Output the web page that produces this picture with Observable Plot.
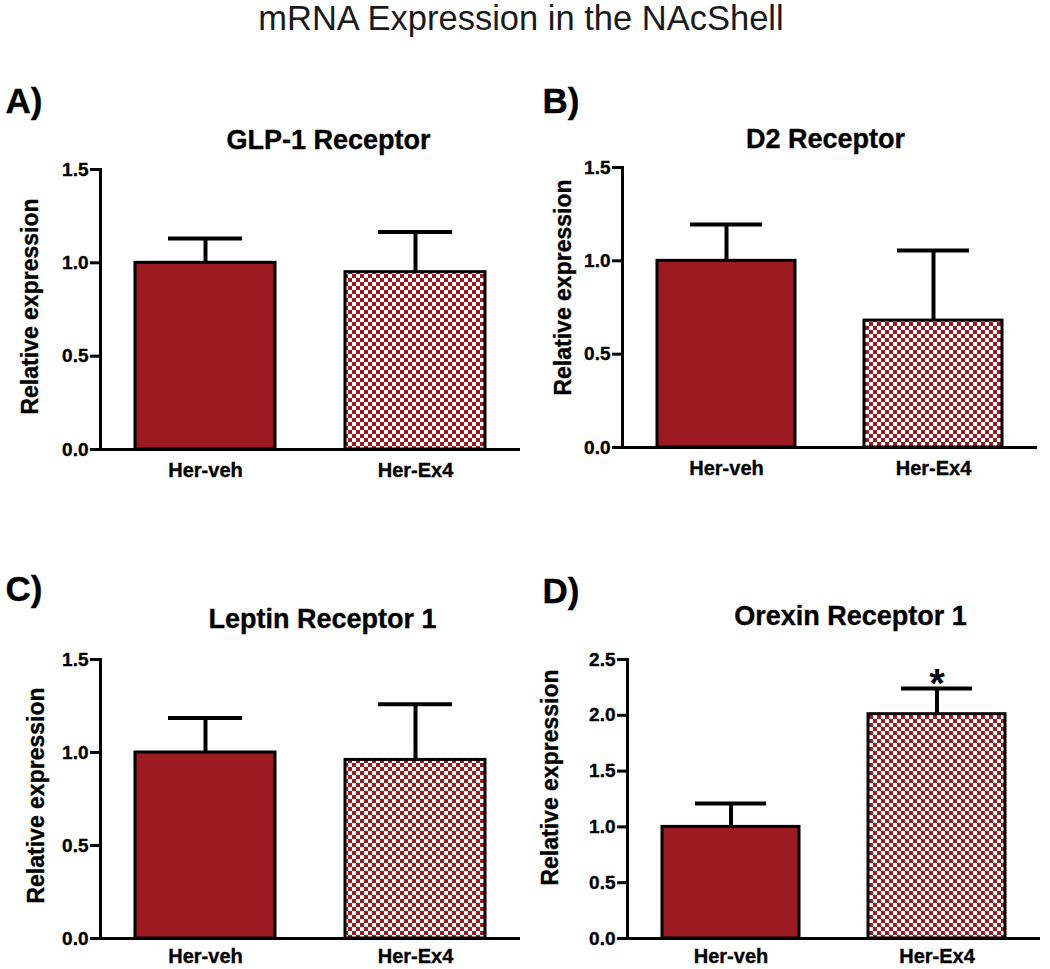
<!DOCTYPE html>
<html>
<head>
<meta charset="utf-8">
<script src="https://cdn.jsdelivr.net/npm/d3@7"></script>
<script src="https://cdn.jsdelivr.net/npm/@observablehq/plot@0.6"></script>
<style>
  html, body { margin: 0; padding: 0; background: white; }
  #page { position: relative; width: 1050px; height: 969px; overflow: hidden; background: white; }
  #title { position: absolute; left: 0; top: 1px; width: 1042px; text-align: center;
           font-family: "Liberation Sans", Arial, sans-serif; font-size: 34.5px; line-height: 34px; color: #1a1a1a; }
  .panel { position: absolute; }
  .panel g[aria-label="y-axis tick label"] text,
  .panel g[aria-label="x-axis tick label"] text { stroke: black; stroke-width: 0.35px; }
</style>
</head>
<body>
<svg width="0" height="0" style="position:absolute">
  <defs>
    <pattern id="checker" width="8" height="8" patternUnits="userSpaceOnUse">
      <rect width="8" height="8" fill="white"/>
      <rect width="4" height="4" fill="#9b1b21"/>
      <rect x="4" y="4" width="4" height="4" fill="#9b1b21"/>
    </pattern>
  </defs>
</svg>
<div id="page">
  <div id="title"></div>
</div>
<script>
// ---- data ----
const mainTitle = "mRNA Expression in the NAcShell";
const groups = ["Her-veh", "Her-Ex4"];
const panelLetters = ["A)", "B)", "C)", "D)"];
const panelTitles = ["GLP-1 Receptor", "D2 Receptor", "Leptin Receptor 1", "Orexin Receptor 1"];
const yLabel = "Relative expression";

const glp1Means = [1.00, 0.95];
const glp1Errors = [0.13, 0.215];
const d2Means = [1.00, 0.68];
const d2Errors = [0.195, 0.375];
const leptinMeans = [1.00, 0.96];
const leptinErrors = [0.185, 0.30];
const orexinMeans = [1.00, 2.01];
const orexinErrors = [0.21, 0.23];
const noMarks = ["", ""];
const orexinMarks = ["", "*"];

const yTicksLow = [0, 0.5, 1.0, 1.5];
const yTicksHigh = [0, 0.5, 1.0, 1.5, 2.0, 2.5];

const fillColors = ["#9b1b21", "url(#checker)"];

// ---- layout (page coordinates) ----
const layouts = [
  {left: 0,   top: 50,  ml: 100, mr: 5,  mt: 119, mb: 31, title: [328, 148], letter: [5, 112],   label: [30, 306],  xPad: 13},
  {left: 525, top: 50,  ml: 97,  mr: 13, mt: 117, mb: 33, title: [825, 147], letter: [542, 112], label: [563, 287], xPad: 13},
  {left: 0,   top: 539, ml: 100, mr: 5,  mt: 120, mb: 31, title: [322, 627], letter: [5, 600],   label: [36, 795],  xPad: 10},
  {left: 525, top: 539, ml: 102, mr: 10, mt: 120, mb: 31, title: [850, 624], letter: [542, 602], label: [550, 777], xPad: 10}
];

const panelData = [
  {means: glp1Means, errors: glp1Errors, sig: noMarks, ticks: yTicksLow},
  {means: d2Means, errors: d2Errors, sig: noMarks, ticks: yTicksLow},
  {means: leptinMeans, errors: leptinErrors, sig: noMarks, ticks: yTicksLow},
  {means: orexinMeans, errors: orexinErrors, sig: orexinMarks, ticks: yTicksHigh}
];

document.getElementById("title").textContent = mainTitle;
const page = document.getElementById("page");
const W = 525, H = 430;
const heavy = {stroke: "black", strokeWidth: 0.35};

panelData.forEach((p, i) => {
  const L = layouts[i];
  const rows = groups.map((g, j) => ({group: g, mean: p.means[j], hi: p.means[j] + p.errors[j], sig: p.sig[j]}));
  const fx = (X) => X - L.left - L.ml;
  const fy = (Y) => Y - L.top - L.mt;
  const chart = Plot.plot({
    width: W, height: H,
    marginLeft: L.ml, marginRight: L.mr, marginTop: L.mt, marginBottom: L.mb,
    style: {fontFamily: "'Liberation Sans', Arial, sans-serif", fontWeight: "bold", color: "black", background: "transparent", overflow: "visible"},
    x: {domain: groups, paddingInner: 1/3, paddingOuter: 1/6, label: null},
    y: {domain: [0, p.ticks[p.ticks.length - 1]], label: null},
    color: {domain: groups, range: fillColors},
    marks: [
      Plot.ruleX(rows, {x: "group", y1: "mean", y2: "hi", stroke: "black", strokeWidth: 4}),
      Plot.tickY(rows, {x: "group", y: "hi", stroke: "black", strokeWidth: 4, insetLeft: 33, insetRight: 33}),
      Plot.barY(rows, {x: "group", y: "mean", fill: "group", stroke: "black", strokeWidth: 3}),
      Plot.ruleY([0], {stroke: "black", strokeWidth: 3}),
      Plot.frame({anchor: "left", stroke: "black", strokeWidth: 3}),
      Plot.axisY({ticks: p.ticks, tickFormat: ".1f", tickSize: 10, tickPadding: 2, strokeWidth: 3, fontSize: 19, fontWeight: "bold", label: null}),
      Plot.axisX({tickSize: 0, tickPadding: L.xPad, fontSize: 20, fontWeight: "bold", label: null}),
      Plot.text(rows.filter(d => d.sig), {x: "group", y: "hi", text: "sig", fontSize: 40, fontWeight: "bold", lineAnchor: "bottom", dy: 8, fill: "black"}),
      Plot.text([panelTitles[i]], {text: d => d, frameAnchor: "top-left", dx: fx(L.title[0]), dy: fy(L.title[1]), textAnchor: "middle", lineAnchor: "bottom", fontSize: 27, fontWeight: "bold", fill: "black", ...heavy}),
      Plot.text([panelLetters[i]], {text: d => d, frameAnchor: "top-left", dx: fx(L.letter[0]), dy: fy(L.letter[1]), textAnchor: "start", lineAnchor: "bottom", fontSize: 35, fontWeight: "bold", fill: "black", ...heavy}),
      Plot.text([yLabel], {text: d => d, frameAnchor: "top-left", dx: fx(L.label[0]), dy: fy(L.label[1]), rotate: -90, textAnchor: "middle", lineAnchor: "middle", fontSize: 23, fontWeight: "bold", fill: "black", ...heavy})
    ]
  });
  chart.classList.add("panel");
  chart.style.left = L.left + "px";
  chart.style.top = L.top + "px";
  page.appendChild(chart);
});
</script>
</body>
</html>
